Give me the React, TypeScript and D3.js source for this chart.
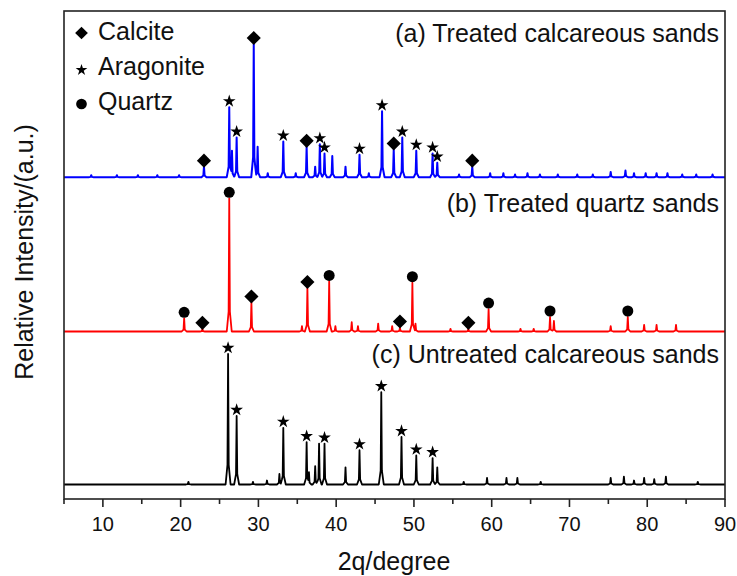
import React from "react";
import * as d3 from "d3";

const W = 737;
const H = 576;
const FONT = "'Liberation Sans', Arial, sans-serif";

const majorTicks = [10, 20, 30, 40, 50, 60, 70, 80, 90];
const minorTicks = [5, 15, 25, 35, 45, 55, 65, 75, 85];

// (a) treated calcareous sands - peak 2theta / relative intensity
const aTheta = [8.5, 11.8, 14.5, 17.0, 19.8, 23.0, 26.25, 26.6, 27.2, 29.4, 29.9, 31.2, 33.2, 34.8, 36.2, 37.3, 37.9, 38.5, 39.5, 41.2, 43.0, 44.2, 45.9, 47.4, 48.5, 50.3, 52.4, 53.0, 55.8, 57.5, 59.8, 61.5, 63.0, 64.6, 66.2, 68.5, 71.0, 73.0, 75.3, 77.2, 78.3, 79.8, 81.2, 82.6, 84.5, 86.3, 88.4];
const aInt = [1.5, 1.5, 1.5, 1.5, 1.5, 8, 53, 20, 30, 101, 23, 3, 27, 3, 23, 8, 25, 18, 16, 8, 17, 3, 50, 21, 30, 20, 18, 11, 2, 8, 3, 3, 2, 3, 2, 2, 2, 2, 4, 5, 3, 3, 3, 3, 2, 2, 2];
const aCalcite = [23.0, 29.4, 36.2, 47.4, 57.5];
const aAragonite = [26.25, 27.2, 33.2, 37.9, 38.5, 43.0, 45.9, 48.5, 50.3, 52.4, 53.0];
const aQuartz: number[] = [];

// (b) treated quartz sands
const bTheta = [20.45, 22.8, 26.25, 29.1, 35.6, 36.3, 39.1, 39.9, 42.0, 42.8, 45.4, 47.2, 48.2, 49.8, 50.2, 54.7, 57.0, 59.6, 63.7, 65.4, 67.5, 68.0, 75.3, 77.5, 79.6, 81.2, 83.7];
const bInt = [10, 2, 101, 22, 4, 33, 38, 4, 7, 4, 6, 4, 3, 37, 6, 2, 2, 17, 2, 2, 11, 8, 4, 11, 5, 5, 5];
const bCalcite = [22.8, 29.1, 36.3, 48.2, 57.0];
const bAragonite: number[] = [];
const bQuartz = [20.45, 26.25, 39.1, 49.8, 59.6, 67.5, 77.5];

// (c) untreated calcareous sands
const cTheta = [21.0, 26.1, 27.2, 29.3, 31.1, 32.7, 33.2, 36.2, 36.5, 37.3, 37.8, 38.5, 41.2, 43.0, 45.8, 48.4, 50.3, 52.4, 53.0, 56.4, 59.4, 61.9, 63.3, 66.3, 75.3, 77.0, 78.3, 79.6, 80.9, 82.4, 86.5];
const cInt = [2, 99, 52, 2, 3, 8, 43, 32, 9, 14, 31, 31, 13, 26, 70, 36, 22, 20, 13, 2, 5, 5, 5, 2, 5, 6, 3, 5, 4, 6, 2];
const cCalcite: number[] = [];
const cAragonite = [26.1, 27.2, 33.2, 36.2, 38.5, 43.0, 45.8, 48.4, 50.3, 52.4];
const cQuartz: number[] = [];

const seriesNames = ["(a) Treated calcareous sands", "(b) Treated quartz sands", "(c) Untreated calcareous sands"];
const seriesColors = ["#0000ff", "#ff0000", "#000000"];
const seriesOffsets = [244, 127, 11];
const legendNames = ["Calcite", "Aragonite", "Quartz"];

const x = d3.scaleLinear().domain([5, 90]).range([64, 725]);
const y = d3.scaleLinear().domain([0, 370]).range([499, 11]);

function buildProfile(theta: number[], inten: number[]) {
  const shapes = theta.map((t, i) =>
    d3.scaleLinear()
      .domain([t - 0.32, t - 0.08, t, t + 0.08, t + 0.32])
      .range([0, 0.15 * inten[i], inten[i], 0.15 * inten[i], 0])
      .clamp(true)
  );
  const valueAt = (v: number) => d3.sum(shapes, (s) => s(v));
  const xs = Array.from(new Set([5, 90, ...theta.flatMap((t) => [t - 0.32, t - 0.08, t, t + 0.08, t + 0.32])]))
    .filter((v) => v >= 5 && v <= 90)
    .sort((p, q) => p - q);
  return { points: xs.map((v) => [v, valueAt(v)] as [number, number]), valueAt };
}

const symDiamond = (s: number) => d3.symbol(d3.symbolSquare, s)()!;
const symStar = (s: number) => d3.symbol(d3.symbolStar, s)()!;
const symCircle = (s: number) => d3.symbol(d3.symbolCircle, s)()!;

const App = () => {
  const series = [
    { theta: aTheta, inten: aInt, calcite: aCalcite, aragonite: aAragonite, quartz: aQuartz },
    { theta: bTheta, inten: bInt, calcite: bCalcite, aragonite: bAragonite, quartz: bQuartz },
    { theta: cTheta, inten: cInt, calcite: cCalcite, aragonite: cAragonite, quartz: cQuartz },
  ];
  const labelY = [42, 212, 363];

  return (
    <svg width={W} height={H} style={{ position: "absolute", left: 0, top: 0, background: "#fff" }} fontFamily={FONT}>
      <rect x={0} y={0} width={W} height={H} fill="#fff" />
      {series.map((s, i) => {
        const prof = buildProfile(s.theta, s.inten);
        const off = seriesOffsets[i];
        const line = d3.line<[number, number]>()
          .x((d) => x(d[0]))
          .y((d) => y(off + d[1]));
        const top = (t: number) => y(off + prof.valueAt(t));
        return (
          <g key={i}>
            <path d={line(prof.points)!} fill="none" stroke={seriesColors[i]} strokeWidth={i === 0 ? 2 : 1.8} strokeLinejoin="round" />
            {s.calcite.map((t) => (
              <path key={"c" + t} d={symDiamond(100)} transform={`translate(${x(t)},${top(t) - 6}) rotate(45)`} fill="#000" />
            ))}
            {s.aragonite.map((t) => (
              <path key={"a" + t} d={symStar(50)} transform={`translate(${x(t)},${top(t) - 6})`} fill="#000" />
            ))}
            {s.quartz.map((t) => (
              <path key={"q" + t} d={symCircle(95)} transform={`translate(${x(t)},${top(t) - 6})`} fill="#000" />
            ))}
            <text x={719} y={labelY[i]} textAnchor="end" fontSize={25} fill="#111">{seriesNames[i]}</text>
          </g>
        );
      })}

      {/* legend */}
      <path d={symDiamond(81)} transform="translate(81.5,33) rotate(45)" fill="#000" />
      <path d={symStar(42)} transform="translate(81.5,70)" fill="#000" />
      <path d={symCircle(90)} transform="translate(81.5,104)" fill="#000" />
      {legendNames.map((n, i) => (
        <text key={n} x={98} y={40 + i * 35} fontSize={25} fill="#111">{n}</text>
      ))}

      {/* frame */}
      <rect x={64} y={11} width={661} height={488} fill="none" stroke="#222" strokeWidth={1.6} />
      {majorTicks.map((t) => (
        <g key={t}>
          <line x1={x(t)} x2={x(t)} y1={499} y2={507} stroke="#222" strokeWidth={1.6} />
          <text x={x(t)} y={531} textAnchor="middle" fontSize={20} fill="#111">{t}</text>
        </g>
      ))}
      {minorTicks.map((t) => (
        <line key={t} x1={x(t)} x2={x(t)} y1={499} y2={504} stroke="#222" strokeWidth={1.6} />
      ))}

      <text x={394} y={570} textAnchor="middle" fontSize={25} fill="#111">2q/degree</text>
      <text transform="translate(33,252) rotate(-90)" textAnchor="middle" fontSize={25} fill="#111">Relative Intensity/(a.u.)</text>
    </svg>
  );
};

export default App;
